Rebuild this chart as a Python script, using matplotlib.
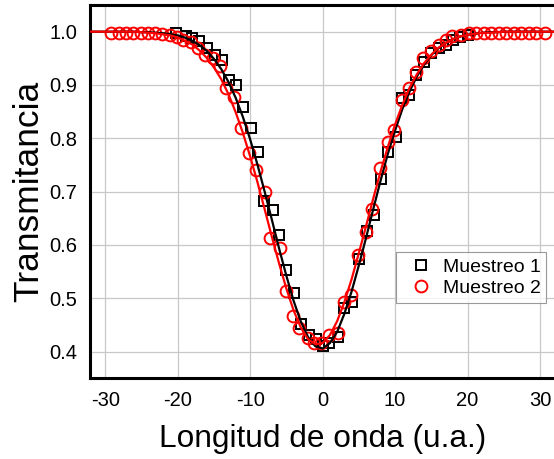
import numpy as np
import matplotlib
matplotlib.use("Agg")
import matplotlib.pyplot as plt

plt.rcParams['font.family'] = ['Liberation Sans', 'DejaVu Sans']
plt.rcParams['axes.unicode_minus'] = False

# Muestreo 1 (cuadrados negros)
x_m1 = [-20.2, -18.9, -18.0, -17.0, -15.9, -14.9, -13.9, -12.9, -11.9, -11.0,
        -9.9, -8.95, -8.05, -6.9, -5.97, -5.05, -3.9, -2.98, -1.83, -0.9,
        0.05, 0.92, 2.07, 3.0, 4.05, 4.97, 6.07, 7.1, 8.05, 8.97,
        10.1, 10.9, 11.96, 12.9, 14.0, 14.95, 16.1, 17.0, 18.0, 19.0, 20.0]
y_m1 = [0.997, 0.992, 0.988, 0.983, 0.969, 0.956, 0.947, 0.909, 0.900, 0.859,
        0.820, 0.774, 0.683, 0.665, 0.619, 0.553, 0.510, 0.451, 0.431, 0.423,
        0.410, 0.417, 0.428, 0.481, 0.494, 0.574, 0.627, 0.656, 0.724, 0.775,
        0.803, 0.876, 0.881, 0.919, 0.944, 0.960, 0.969, 0.975, 0.985, 0.990, 0.994]

# Muestreo 2 (circulos rojos)
x_m2 = [-29.2, -28.1, -27.1, -26.1, -25.1, -24.1, -23.1, -22.1, -21.05, -20.1,
        -19.2, -18.2, -17.2, -16.2, -15.1, -14.1, -13.3, -12.2, -11.2, -10.1,
        -9.2, -8.0, -7.2, -5.9, -5.05, -4.14, -3.2, -2.07, -1.14, -0.22,
        0.92, 2.07, 3.0, 3.9, 4.92, 5.98, 6.75, 7.9, 8.97, 9.9,
        10.95, 11.96, 12.9, 13.9, 14.95, 16.0, 17.0, 17.9, 19.1, 20.2,
        21.2, 22.2, 23.25, 24.3, 25.3, 26.4, 27.4, 28.5, 29.5, 30.7]
y_m2 = [0.998, 0.998, 0.998, 0.998, 0.998, 0.997, 0.997, 0.995, 0.993, 0.990,
        0.985, 0.981, 0.969, 0.956, 0.950, 0.935, 0.894, 0.878, 0.819, 0.772,
        0.740, 0.700, 0.614, 0.595, 0.513, 0.466, 0.445, 0.426, 0.417, 0.416,
        0.432, 0.435, 0.494, 0.507, 0.582, 0.625, 0.667, 0.744, 0.794, 0.815,
        0.872, 0.894, 0.925, 0.950, 0.963, 0.975, 0.984, 0.991, 0.994, 0.997,
        0.998, 0.998, 0.998, 0.998, 0.998, 0.998, 0.998, 0.998, 0.998, 0.998]

# curvas de ajuste
x_fit = list(range(-32, 33))
y_fit1 = [1.000, 1.000, 1.000, 1.000, 1.000, 1.000, 1.000, 0.999, 0.999, 0.998,
          0.997, 0.995, 0.993, 0.989, 0.983, 0.975, 0.964, 0.949, 0.930, 0.906,
          0.876, 0.840, 0.798, 0.751, 0.700, 0.647, 0.593, 0.542, 0.495, 0.456,
          0.427, 0.410, 0.406, 0.416, 0.437, 0.471, 0.513, 0.562, 0.614, 0.668,
          0.721, 0.771, 0.815, 0.855, 0.888, 0.916, 0.938, 0.956, 0.969, 0.979,
          0.986, 0.991, 0.994, 0.996, 0.998, 0.999, 0.999, 1.000, 1.000, 1.000,
          1.000, 1.000, 1.000, 1.000, 1.000]
y_fit2 = [1.000, 1.000, 1.000, 1.000, 1.000, 1.000, 1.000, 0.999, 0.998, 0.997,
          0.995, 0.993, 0.989, 0.983, 0.976, 0.965, 0.951, 0.933, 0.911, 0.883,
          0.849, 0.810, 0.766, 0.718, 0.667, 0.615, 0.565, 0.518, 0.477, 0.445,
          0.423, 0.414, 0.416, 0.431, 0.457, 0.493, 0.536, 0.585, 0.636, 0.688,
          0.738, 0.784, 0.826, 0.863, 0.895, 0.920, 0.941, 0.957, 0.970, 0.979,
          0.986, 0.991, 0.994, 0.996, 0.998, 0.998, 0.999, 1.000, 1.000, 1.000,
          1.000, 1.000, 1.000, 1.000, 1.000]

fig = plt.figure(figsize=(5.54, 4.59), dpi=100)
# el borde derecho del marco queda fuera de la imagen, como en el original
ax = fig.add_axes([90/554, 0.1758, 466/554, 0.8133])

ax.plot(x_m1, y_m1, linestyle='none', marker='s', ms=7, mfc='none', mec='black',
        mew=1.4, label='Muestreo 1', zorder=3)
ax.plot(x_m2, y_m2, linestyle='none', marker='o', ms=8.5, mfc='none', mec='red',
        mew=1.4, label='Muestreo 2', zorder=4)
ax.plot(x_fit, y_fit1, color='black', lw=1.6, zorder=5)
ax.plot(x_fit, y_fit2, color='red', lw=1.6, zorder=6)

ax.set_xlim(-32.1, 32.2)
ax.set_ylim(0.35, 1.05)
ax.set_xticks([-30, -20, -10, 0, 10, 20, 30])
ax.set_yticks([0.4, 0.5, 0.6, 0.7, 0.8, 0.9, 1.0])
ax.set_yticklabels(['0.4', '0.5', '0.6', '0.7', '0.8', '0.9', '1.0'])
ax.tick_params(length=0, labelsize=14.5, pad=9)
ax.grid(True, color='#c8c8c8', lw=0.9)
ax.set_axisbelow(True)
for s in ax.spines.values():
    s.set_linewidth(2.2)

ax.set_xlabel('Longitud de onda (u.a.)', fontsize=22.8, labelpad=10)
ax.set_ylabel('Transmitancia', fontsize=25.5, labelpad=3)

leg = ax.legend(loc='upper left', bbox_to_anchor=(306/466, 0.338), borderaxespad=0,
                fontsize=14, frameon=True, fancybox=False, handletextpad=0.1,
                borderpad=0.3, labelspacing=0.2, handlelength=2.0)
leg.get_frame().set_edgecolor('#808080')
leg.get_frame().set_linewidth(0.8)

fig.savefig('out.png', dpi=100)
